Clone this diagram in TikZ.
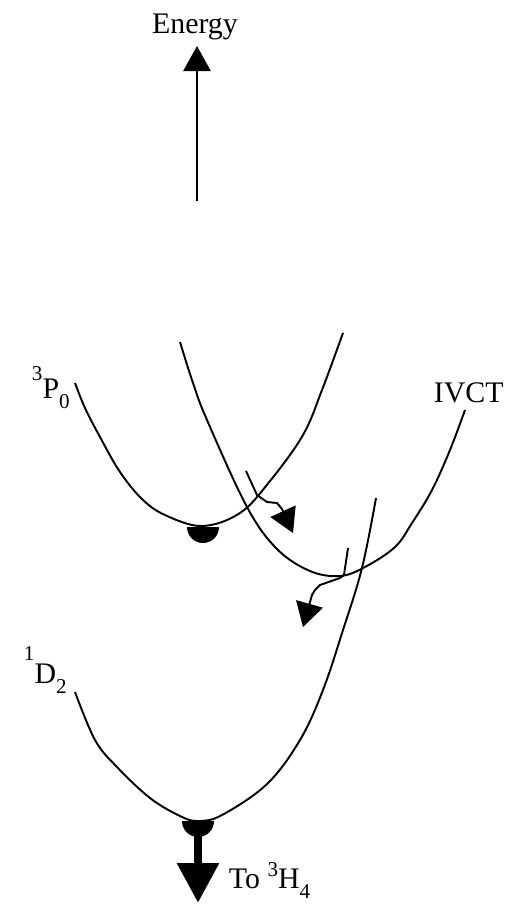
\documentclass[tikz,border=0pt]{standalone}
\usepackage{fontspec}
\setmainfont{Liberation Serif}
\usetikzlibrary{arrows.meta}

% term symbol: superscript, letter, subscript
\newcommand{\lvl}[4][0.6em]{\raisebox{#1}{\fontsize{12}{12}\selectfont #2}#3\raisebox{-0.35em}{\fontsize{12}{12}\selectfont #4}}

\begin{document}
\begin{tikzpicture}[x=0.02cm, y=-0.02cm, line width=1.1pt,
  every node/.style={font=\fontsize{17}{20}\selectfont, inner sep=0pt},
  well/.style={smooth, tension=0.6},
  hop/.style={-{Triangle[length=0.48cm, width=0.55cm]}}]
  \useasboundingbox (0,0) rectangle (513,904);

  % energy axis
  \node[anchor=base] (energy) at (195,33) {Energy};
  \coordinate (ebot) at (197,201);
  \coordinate (etop) at (197,46);
  \draw[line width=1.5pt, -{Triangle[length=0.5cm, width=0.54cm]}] (ebot) -- (etop);

  % potential wells
  \draw plot[well] coordinates {(75,383) (85,408) (100,437) (120,472) (142,499) (165,515)
    (202,526) (240,513) (270,481) (303,435) (322,390) (343,333)};
  \draw plot[well] coordinates {(180,342) (193,383) (207,420) (247,507) (277,549) (310,571)
    (340,576) (365,567) (395,547) (412,523) (432,490) (450,450) (465,410)};
  \draw plot[well] coordinates {(75,692) (95,740) (117,767) (150,798) (180,816) (198,821)
    (222,815) (267,784) (300,740) (323,690) (343,630) (362,568) (376,498)};

  \node[anchor=base west] (p0lab) at (31,398) {\lvl{3}{P}{0}};
  \node[anchor=base west] (ivctlab) at (433,402) {IVCT};
  \node[anchor=base west] (d2lab) at (23,683) {\lvl[0.75em]{1}{D}{2}};

  % populated minima
  \foreach \cx/\cy in {203/527, 198/821}
    \fill (\cx-16,\cy) arc (180:0:16) -- cycle;

  % crossover hops
  \coordinate (hopa) at (246,471);
  \coordinate (hopaend) at (293,533);
  \draw[hop] (hopa) -- (257,495) -- (267,502) -- (277,503) -- (282,509) -- (hopaend);
  \coordinate (hopb) at (348,548);
  \coordinate (hopbend) at (303,627);
  \draw[hop] (hopb) -- (344,575) -- (340,578) -- (320,585) -- (315,590) -- (312,595) -- (hopbend);

  % decay out of the 1D2 well
  \coordinate (dtop) at (198,834);
  \coordinate (dbot) at (198,903);
  \draw[line width=5.1pt, -{Triangle[length=0.8cm, width=0.8cm]}] (dtop) -- (dbot);
  \node[anchor=base west] (tolab) at (228,888) {To \lvl[0.37em]{3}{H}{4}};
\end{tikzpicture}
\end{document}
